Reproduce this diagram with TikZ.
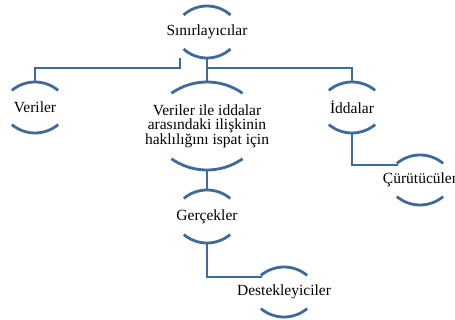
\documentclass[tikz,border=0pt]{standalone}
\usepackage{fontspec}
\setmainfont{Liberation Serif}
\usetikzlibrary{positioning}

\definecolor{linkblue}{RGB}{62,106,158}

\begin{document}
\begin{tikzpicture}[x=1pt,y=1pt,
    bubble/.style={inner sep=0pt,outer sep=0pt,
      align=center,font=\fontsize{15.5}{14}\selectfont},
    arcline/.style={draw=linkblue,line width=2.8pt},
    link/.style={draw=linkblue,line width=2.8pt}]
  \useasboundingbox (0,0) rectangle (455,-320);

  \node[bubble] (sin) at (207,-32)    {Sınırlayıcılar};
  \node[bubble] (ver) at (35,-107.5)  {Veriler};
  \node[bubble] (mid) at (207,-126)   {Veriler ile iddalar\\arasındaki ilişkinin\\haklılığını ispat için};
  \node[bubble] (idd) at (352,-107.5) {İddalar};
  \node[bubble] (cur) at (420,-180)   {Çürütücüler};
  \node[bubble] (ger) at (207,-216.5) {Gerçekler};
  \node[bubble] (des) at (284,-292)   {Destekleyiciler};

  % top and bottom arcs of every bubble (half height, arc radius, half angle)
  \foreach \n/\h/\R/\a in {sin/26/35/42,ver/25.5/36/40,mid/44/62/35,idd/25.5/36/40,
                           cur/25/36/40,ger/26.5/36/40,des/25/36/40}{
    \coordinate (\n-top) at ([yshift=\h pt]\n.center);
    \coordinate (\n-bot) at ([yshift=-\h pt]\n.center);
    \coordinate (\n-in) at ([shift={(-22pt,\h pt-10pt)}]\n.center);
    \draw[arcline] (\n-top) arc[start angle=90,end angle=90+\a,radius=\R]
                   (\n-top) arc[start angle=90,end angle=90-\a,radius=\R];
    \draw[arcline] (\n-bot) arc[start angle=-90,end angle=-90+\a,radius=\R]
                   (\n-bot) arc[start angle=-90,end angle=-90-\a,radius=\R];
  }

  \draw[link] ([xshift=-27pt]sin-bot) -- ++(0,-10) -| (ver-top);
  \draw[link] (sin-bot) -- (mid-top);
  \draw[link] ([yshift=-10pt]sin-bot) -| (idd-top);
  \draw[link] (mid-bot) -- (ger-top);
  \draw[link] (ger-bot) |- (des-in);
  \draw[link] (idd-bot) |- (cur-in);
\end{tikzpicture}
\end{document}
